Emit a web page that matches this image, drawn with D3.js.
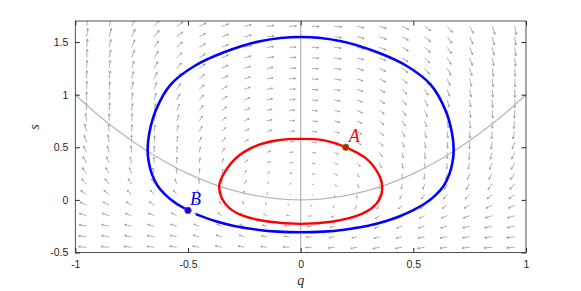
<!DOCTYPE html>
<html lang="en">
  <head>
    <meta charset="utf-8">
    <script src="https://d3js.org/d3.v7.min.js"></script>
    <title>Phase plane</title>
    <style>
      body { margin: 0; background: #fff; }
      .tick text { font-family: "Liberation Sans", Arial, sans-serif; font-size: 10.5px; fill: #262626; }
      .tick line { stroke: #262626; }
    </style>
  </head>
  <body>
    <div id="chart"></div>
    <script>
      // grid of the direction field
      var qGrid = [-0.95,-0.85,-0.75,-0.65,-0.55,-0.45,-0.35,-0.25,-0.15,-0.05,
                   0.05,0.15,0.25,0.35,0.45,0.55,0.65,0.75,0.85,0.95];
      var sGrid = [1.65,1.55,1.45,1.35,1.25,1.15,1.05,0.95,0.85,0.75,0.65,
                   0.55,0.45,0.35,0.25,0.15,0.05,-0.05,-0.15,-0.25,-0.35,-0.45];

      // arrow direction on screen (degrees, counter-clockwise from +q), one row per s value
      var fieldAngle = [
        [80,72,62,48,35,25,18,12,6,3,-3,-6,-12,-18,-25,-35,-48,-62,-72,-80],
        [82,75,65,52,38,28,20,13,7,3,-3,-7,-13,-20,-28,-38,-52,-65,-75,-82],
        [83,77,68,55,42,30,22,14,7,3,-3,-7,-14,-22,-30,-42,-55,-68,-77,-83],
        [85,79,70,58,45,33,24,15,8,4,-4,-8,-15,-24,-33,-45,-58,-70,-79,-85],
        [86,81,73,62,49,36,26,17,9,4,-4,-9,-17,-26,-36,-49,-62,-73,-81,-86],
        [87,83,76,66,53,40,28,18,10,4,-4,-10,-18,-28,-40,-53,-66,-76,-83,-87],
        [88,85,79,70,57,44,31,20,11,5,-5,-11,-20,-31,-44,-57,-70,-79,-85,-88],
        [90,87,82,74,62,48,34,22,12,5,-5,-12,-22,-34,-48,-62,-74,-82,-87,-90],
        [93,86,82,77,67,52,37,24,13,5,-5,-13,-24,-37,-52,-67,-77,-82,-86,-93],
        [98,89,85,80,71,57,41,26,14,6,-6,-14,-26,-41,-57,-71,-80,-85,-89,-98],
        [104,94,87,82,75,62,45,29,16,6,-6,-16,-29,-45,-62,-75,-82,-87,-94,-104],
        [110,99,91,85,80,67,50,33,18,7,-7,-18,-33,-50,-67,-80,-85,-91,-99,-110],
        [115,105,96,89,84,77,56,38,21,8,-8,-21,-38,-56,-77,-84,-89,-96,-105,-115],
        [120,112,103,94,87,80,68,45,25,10,-10,-25,-45,-68,-80,-87,-94,-103,-112,-120],
        [126,119,111,103,94,85,75,58,32,12,-12,-32,-58,-75,-85,-94,-103,-111,-119,-126],
        [134,129,123,116,108,97,84,62,40,16,-16,-40,-62,-84,-97,-108,-116,-123,-129,-134],
        [145,141,136,131,125,117,108,95,72,30,-30,-72,-95,-108,-117,-125,-131,-136,-141,-145],
        [155,153,150,146,140,133,125,118,120,150,-150,-120,-118,-125,-133,-140,-146,-150,-153,-155],
        [163,162,160,158,154,150,145,145,155,170,-170,-155,-145,-145,-150,-154,-158,-160,-162,-163],
        [169,168,167,165,163,160,157,158,165,174,-174,-165,-158,-157,-160,-163,-165,-167,-168,-169],
        [173,172,171,170,168,166,164,165,170,176,-176,-170,-165,-164,-166,-168,-170,-171,-172,-173],
        [176,175,174,173,171,170,168,169,173,177,-177,-173,-169,-168,-170,-171,-173,-174,-175,-176]
      ];

      // relative arrow length (1 = longest arrow)
      var fieldLength = [
        [.95,.95,.9,.9,.85,.85,.8,.8,.8,.8,.8,.8,.8,.8,.85,.85,.9,.9,.95,.95],
        [.95,.95,.9,.9,.85,.8,.8,.8,.8,.8,.8,.8,.8,.8,.8,.85,.9,.9,.95,.95],
        [.95,.9,.9,.85,.85,.8,.8,.8,.75,.75,.75,.75,.8,.8,.8,.85,.85,.9,.9,.95],
        [.95,.9,.9,.85,.8,.8,.8,.75,.75,.75,.75,.75,.75,.8,.8,.8,.85,.9,.9,.95],
        [.9,.9,.85,.85,.8,.8,.75,.75,.7,.7,.7,.7,.75,.75,.8,.8,.85,.85,.9,.9],
        [.9,.9,.85,.8,.8,.75,.75,.7,.7,.7,.7,.7,.7,.75,.75,.8,.8,.85,.9,.9],
        [.9,.85,.85,.8,.75,.75,.7,.7,.65,.65,.65,.65,.7,.7,.75,.75,.8,.85,.85,.9],
        [.9,.85,.8,.8,.75,.7,.7,.65,.65,.65,.65,.65,.65,.7,.7,.75,.8,.8,.85,.9],
        [.85,.85,.8,.75,.75,.7,.65,.65,.6,.6,.6,.6,.65,.65,.7,.75,.75,.8,.85,.85],
        [.85,.8,.8,.75,.7,.65,.65,.6,.6,.6,.6,.6,.6,.65,.65,.7,.75,.8,.8,.85],
        [.85,.8,.75,.7,.7,.65,.6,.6,.55,.55,.55,.55,.6,.6,.65,.7,.7,.75,.8,.85],
        [.8,.8,.75,.7,.65,.6,.6,.55,.5,.5,.5,.5,.55,.6,.6,.65,.7,.75,.8,.8],
        [.8,.75,.75,.7,.65,.6,.55,.5,.45,.4,.4,.45,.5,.55,.6,.65,.7,.75,.75,.8],
        [.8,.75,.7,.65,.65,.6,.55,.5,.4,.35,.35,.4,.5,.55,.6,.65,.65,.7,.75,.8],
        [.8,.75,.7,.65,.6,.55,.5,.4,.35,.3,.3,.35,.4,.5,.55,.6,.65,.7,.75,.8],
        [.8,.75,.7,.65,.6,.55,.5,.45,.3,.2,.2,.3,.45,.5,.55,.6,.65,.7,.75,.8],
        [.8,.75,.7,.65,.6,.55,.5,.4,.25,.12,.12,.25,.4,.5,.55,.6,.65,.7,.75,.8],
        [.8,.75,.7,.65,.6,.55,.5,.45,.3,.2,.2,.3,.45,.5,.55,.6,.65,.7,.75,.8],
        [.85,.8,.75,.7,.65,.6,.55,.5,.4,.35,.35,.4,.5,.55,.6,.65,.7,.75,.8,.85],
        [.85,.85,.8,.75,.7,.65,.6,.55,.5,.5,.5,.5,.55,.6,.65,.7,.75,.8,.85,.85],
        [.9,.85,.8,.8,.75,.7,.65,.6,.6,.6,.6,.6,.6,.65,.7,.75,.8,.8,.85,.9],
        [.9,.9,.85,.8,.8,.75,.75,.7,.7,.7,.7,.7,.7,.75,.75,.8,.8,.85,.9,.9]
      ];

      // closed orbit through A
      var redOrbit = [[0,0.58],[0.1,0.568],[0.2,0.5],[0.29,0.395],[0.343,0.255],
                      [0.362,0.13],[0.352,0.015],[0.315,-0.08],[0.248,-0.153],[0.145,-0.205],
                      [0,-0.228],[-0.145,-0.205],[-0.25,-0.155],[-0.315,-0.08],[-0.35,0.015],
                      [-0.361,0.14],[-0.335,0.27],[-0.28,0.41],[-0.19,0.52],[-0.1,0.567]];
      // orbit starting at B
      var blueOrbit = [[-0.5,-0.098],[-0.555,-0.03],[-0.6,0.048],[-0.635,0.135],[-0.66,0.245],
                       [-0.674,0.36],[-0.679,0.468],[-0.672,0.63],[-0.643,0.85],[-0.577,1.095],
                       [-0.473,1.27],[-0.34,1.403],[-0.18,1.508],[0,1.548],[0.18,1.508],
                       [0.34,1.403],[0.473,1.27],[0.577,1.095],[0.643,0.85],[0.672,0.63],
                       [0.679,0.468],[0.674,0.36],[0.66,0.245],[0.635,0.135],[0.6,0.048],
                       [0.555,-0.03],[0.5,-0.098],[0.44,-0.155],[0.38,-0.2],[0.3,-0.245],
                       [0.193,-0.283],[0.1,-0.302],[0,-0.308],[-0.1,-0.302],[-0.193,-0.283],
                       [-0.3,-0.245],[-0.38,-0.2],[-0.465,-0.135]];
      // nullclines
      var parabola = [[-1,1],[-0.9,0.81],[-0.8,0.64],[-0.7,0.49],[-0.6,0.36],[-0.5,0.25],
                      [-0.4,0.16],[-0.3,0.09],[-0.2,0.04],[-0.1,0.01],[0,0],[0.1,0.01],
                      [0.2,0.04],[0.3,0.09],[0.4,0.16],[0.5,0.25],[0.6,0.36],[0.7,0.49],
                      [0.8,0.64],[0.9,0.81],[1,1]];
      var verticalLine = [[0,-0.5],[0,1.7]];
      var pointA = [0.2, 0.5];
      var pointB = [-0.5, -0.1];

      var xTicks = [-1,-0.5,0,0.5,1];
      var yTicks = [-0.5,0,0.5,1,1.5];

      var width = 581, height = 291;
      var svg = d3.select("#chart").append("svg")
          .attr("width", width).attr("height", height);

      var x = d3.scaleLinear().domain([-1,1]).range([75.3,526]);
      var y = d3.scaleLinear().domain([-0.5,1.7]).range([252.5,21]);

      svg.append("clipPath").attr("id","plotClip")
        .append("rect").attr("x",75.3).attr("y",21).attr("width",450.7).attr("height",231.5);

      // direction field
      var maxLen = 9;
      var arrows = [];
      sGrid.forEach(function(s, i) {
        qGrid.forEach(function(q, j) {
          arrows.push({q: q, s: s, a: fieldAngle[i][j] * Math.PI / 180, l: fieldLength[i][j] * maxLen});
        });
      });
      svg.append("g").attr("clip-path","url(#plotClip)")
        .selectAll("path").data(arrows).enter().append("path")
        .attr("d", function(d) {
          var x0 = x(d.q), y0 = y(d.s);
          var x1 = x0 + d.l * Math.cos(d.a), y1 = y0 - d.l * Math.sin(d.a);
          var h = d.l * 0.3, w = 0.45;
          var hx1 = x1 - h * Math.cos(d.a - w), hy1 = y1 + h * Math.sin(d.a - w);
          var hx2 = x1 - h * Math.cos(d.a + w), hy2 = y1 + h * Math.sin(d.a + w);
          return "M" + x0 + "," + y0 + "L" + x1 + "," + y1 +
                 "M" + hx1 + "," + hy1 + "L" + x1 + "," + y1 + "L" + hx2 + "," + hy2;
        })
        .attr("fill","none")
        .attr("stroke","#8c8c8c")
        .attr("stroke-width",0.7);

      var line = d3.line().x(function(d){ return x(d[0]); }).y(function(d){ return y(d[1]); });

      svg.append("path").datum(verticalLine).attr("d", line)
        .attr("fill","none").attr("stroke","#b8b8b8").attr("stroke-width",1.3);
      svg.append("path").datum(parabola).attr("d", line.curve(d3.curveCatmullRom))
        .attr("fill","none").attr("stroke","#b8b8b8").attr("stroke-width",1.3);

      svg.append("path").datum(redOrbit).attr("d", line.curve(d3.curveCatmullRomClosed))
        .attr("fill","none").attr("stroke","#ff0000").attr("stroke-width",2.4);
      svg.append("path").datum(blueOrbit).attr("d", line.curve(d3.curveCatmullRom))
        .attr("fill","none").attr("stroke","#0000ff").attr("stroke-width",2.6);

      // axes box with inward ticks
      var axisColor = "#262626";
      var fmt = function(d){ return String(d); };
      svg.append("g").attr("transform","translate(0,252.5)")
        .call(d3.axisBottom(x).tickValues(xTicks).tickFormat(fmt).tickSizeInner(-4.5).tickSizeOuter(0).tickPadding(8));
      svg.append("g").attr("transform","translate(0,21)")
        .call(d3.axisTop(x).tickValues(xTicks).tickFormat("").tickSizeInner(-4.5).tickSizeOuter(0));
      svg.append("g").attr("transform","translate(75.3,0)")
        .call(d3.axisLeft(y).tickValues(yTicks).tickFormat(fmt).tickSizeInner(-4.5).tickSizeOuter(0).tickPadding(7));
      svg.append("g").attr("transform","translate(526,0)")
        .call(d3.axisRight(y).tickValues(yTicks).tickFormat("").tickSizeInner(-4.5).tickSizeOuter(0));
      svg.selectAll(".domain").remove();
      svg.append("rect").attr("x",75.3).attr("y",21).attr("width",450.7).attr("height",231.5)
        .attr("fill","none").attr("stroke",axisColor).attr("stroke-width",0.8);

      // points A and B
      svg.append("circle").attr("cx", x(pointA[0])).attr("cy", y(pointA[1])).attr("r",3.3)
        .attr("fill","#ff0000").attr("stroke","#5a9a10").attr("stroke-width",0.9);
      svg.append("circle").attr("cx", x(pointB[0])).attr("cy", y(pointB[1])).attr("r",3.3)
        .attr("fill","#0000ff").attr("stroke","#e03030").attr("stroke-width",0.9);

      svg.append("text").attr("x", x(pointA[0]) + 3).attr("y", y(pointA[1]) - 5)
        .style("font-family","'Liberation Serif', 'DejaVu Serif', serif").style("font-style","italic")
        .style("font-size","18px").attr("fill","#ff0000").text("A");
      svg.append("text").attr("x", x(pointB[0]) + 2).attr("y", y(pointB[1]) - 5)
        .style("font-family","'Liberation Serif', 'DejaVu Serif', serif").style("font-style","italic")
        .style("font-size","18px").attr("fill","#0000ff").text("B");

      // axis labels
      svg.append("text").attr("x", 300.7).attr("y", 285).attr("text-anchor","middle")
        .style("font-family","'Liberation Serif', 'DejaVu Serif', serif").style("font-style","italic")
        .style("font-size","14px").attr("fill",axisColor).text("q");
      svg.append("text").attr("transform","translate(39,127) rotate(-90)").attr("text-anchor","middle")
        .style("font-family","'Liberation Serif', 'DejaVu Serif', serif").style("font-style","italic")
        .style("font-size","14px").attr("fill",axisColor).text("s");
    </script>
  </body>
</html>
